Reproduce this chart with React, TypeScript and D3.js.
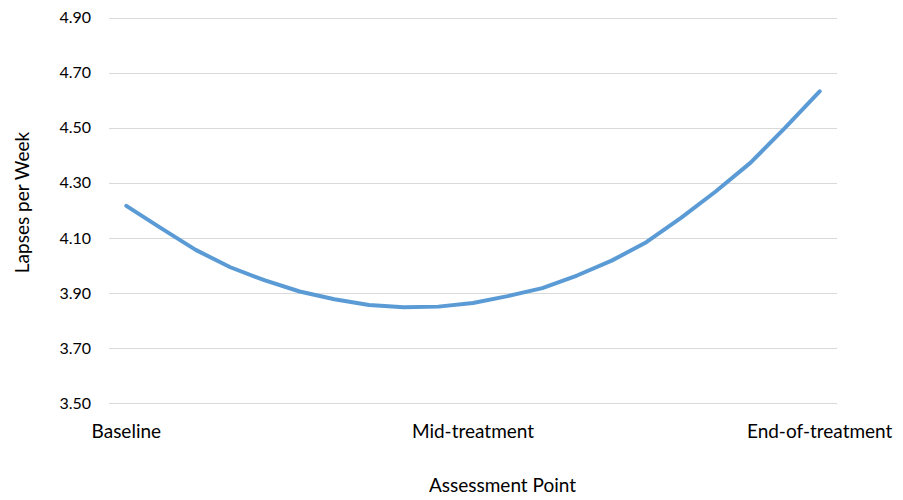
import React from "react";
import * as d3 from "d3";

// Assessment points along the treatment course (21 evenly spaced steps)
const stepIndex: number[] = d3.range(21);
const categoryLabels: { index: number; label: string }[] = [
  { index: 0, label: "Baseline" },
  { index: 10, label: "Mid-treatment" },
  { index: 20, label: "End-of-treatment" },
];

// Estimated lapses per week at each step
const lapsesPerWeek: number[] = [
  4.216, 4.135, 4.056, 3.993, 3.945, 3.905, 3.877, 3.856, 3.848, 3.85,
  3.863, 3.888, 3.917, 3.963, 4.017, 4.084, 4.172, 4.268, 4.372, 4.499, 4.632,
];

const yTicks: number[] = [3.5, 3.7, 3.9, 4.1, 4.3, 4.5, 4.7, 4.9];

const WIDTH = 903;
const HEIGHT = 500;
const PLOT = { left: 109, right: 837, top: 17.5, bottom: 403 };
const FONT = "Lato, 'Open Sans', sans-serif";
const TICK_SIZE = 16;
const LABEL_SIZE = 19;

export default function App() {
  const x = d3
    .scaleBand<number>()
    .domain(stepIndex)
    .range([PLOT.left, PLOT.right]);
  const xc = (i: number) => (x(i) as number) + x.bandwidth() / 2;

  const y = d3.scaleLinear().domain([3.5, 4.9]).range([PLOT.bottom, PLOT.top]);

  const line = d3
    .line<number>()
    .x((_, i) => xc(stepIndex[i]))
    .y((d) => y(d));

  return (
    <div style={{ position: "absolute", left: 0, top: 0 }}>
      <svg width={WIDTH} height={HEIGHT} style={{ display: "block" }}>
        <rect width={WIDTH} height={HEIGHT} fill="#ffffff" />
        {yTicks.map((t) => (
          <g key={t}>
            <line
              x1={PLOT.left}
              x2={PLOT.right}
              y1={Math.round(y(t)) + 0.5}
              y2={Math.round(y(t)) + 0.5}
              stroke="#d9d9d9"
              strokeWidth={1}
            />
            <text
              x={91}
              y={y(t)}
              dy="0.36em"
              textAnchor="end"
              fontFamily={FONT}
              fontSize={TICK_SIZE}
              fill="#000000"
            >
              {t.toFixed(2)}
            </text>
          </g>
        ))}
        {categoryLabels.map((c) => (
          <text
            key={c.label}
            x={xc(c.index)}
            y={438}
            textAnchor="middle"
            fontFamily={FONT}
            fontSize={LABEL_SIZE}
            fill="#000000"
          >
            {c.label}
          </text>
        ))}
        <path
          d={line(lapsesPerWeek) ?? ""}
          fill="none"
          stroke="#5b9bd5"
          strokeWidth={4}
          strokeLinecap="round"
          strokeLinejoin="round"
        />
        <text
          x={502.5}
          y={492}
          textAnchor="middle"
          fontFamily={FONT}
          fontSize={LABEL_SIZE}
          fill="#000000"
        >
          Assessment Point
        </text>
        <text
          transform={`translate(28.5, 202.5) rotate(-90)`}
          textAnchor="middle"
          fontFamily={FONT}
          fontSize={LABEL_SIZE}
          fill="#000000"
        >
          Lapses per Week
        </text>
      </svg>
    </div>
  );
}
